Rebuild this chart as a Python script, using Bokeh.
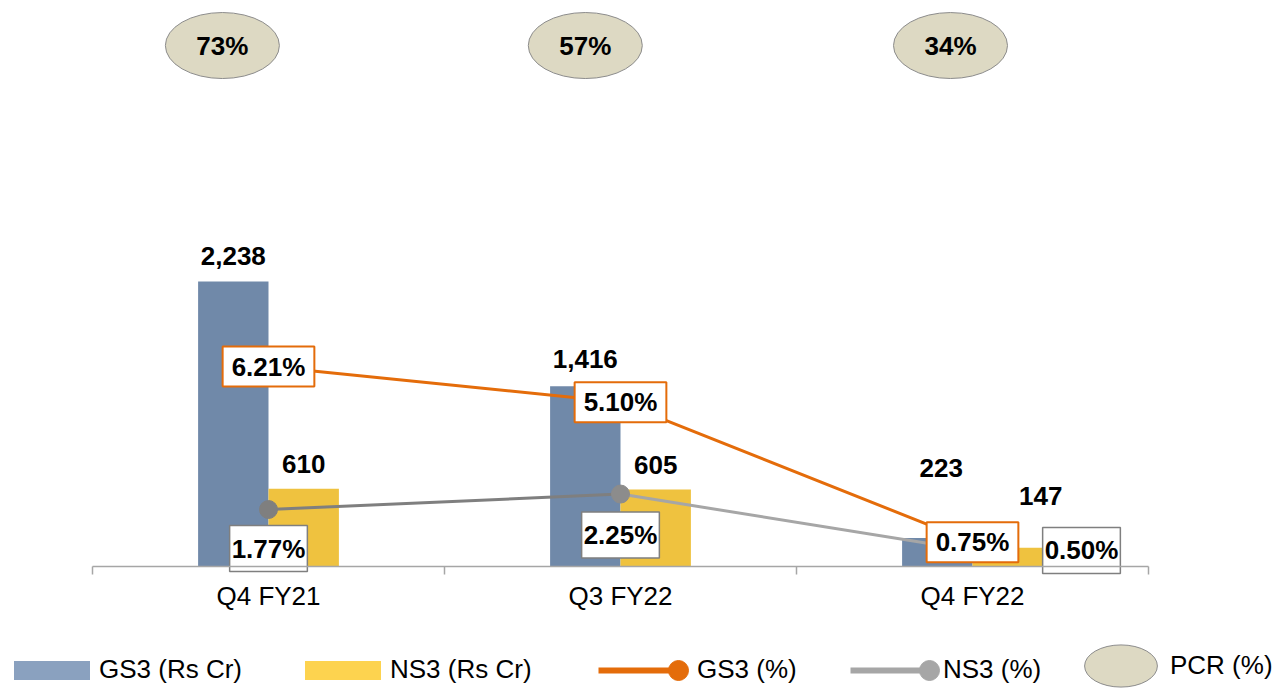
from bokeh.plotting import figure
from bokeh.models import (ColumnDataSource, Range1d, LinearAxis, FixedTicker,
                          Legend, LegendItem)
from bokeh.core.properties import value
from bokeh.transform import dodge
from bokeh.embed import file_html
from bokeh.resources import INLINE

# ---------------- data ----------------
categories = ["Q4 FY21", "Q3 FY22", "Q4 FY22"]
gs3_cr = [2238, 1416, 223]          # GS3 (Rs Cr)
ns3_cr = [610, 605, 147]            # NS3 (Rs Cr)
gs3_pct = [6.21, 5.10, 0.75]        # GS3 (%)
ns3_pct = [1.77, 2.25, 0.50]        # NS3 (%)
pcr_pct = [73, 57, 34]              # PCR (%)

# ---------------- layout / style ----------------
W, H = 1281, 688
BASE_PX = 566            # baseline distance from figure top
CAT_PX = 352             # pixels per category
FIRST_PX = 268           # centre of first category from figure left
BAR_SCALE = 285 / 2238   # px per Rs Cr
PCT_SCALE = 32.2         # px per %
BAR_W = 0.2

FONT = "Liberation Sans"
GS3_COL = "#7089a9"
NS3_COL = "#efc23f"
GS3_LEG = "#8aa1bf"
NS3_LEG = "#fdd34f"
ORANGE = "#e46c0a"
GREYS = ["#7f7f7f", "#8c8c8c", "#a6a6a6"]
SEG_GREYS = ["#7f7f7f", "#a6a6a6"]

# label offsets in pixels (screen)
gs3_lab_dx = [0, 0, 4]
gs3_lab_dy = [-26, -27, -70]
ns3_lab_dx = [0, 0, 33]
ns3_lab_dy = [-25, -24, -52]
ns3p_lab_dx = [0, 0, 109]
ns3p_lab_dy = [39, 41, 0]
pcr_dx = [-0.131, -0.10, -0.0625]
PCR_Y = 4091

xs = list(range(len(categories)))
x_start = -FIRST_PX / CAT_PX
x_end = x_start + W / CAT_PX
y_end = BASE_PX / BAR_SCALE
y_start = y_end - H / BAR_SCALE
p_end = BASE_PX / PCT_SCALE
p_start = p_end - H / PCT_SCALE

p = figure(width=W, height=H, x_range=Range1d(x_start, x_end),
           y_range=Range1d(y_start, y_end), x_axis_type=None, y_axis_type=None,
           output_backend="svg", toolbar_location=None, min_border=0)
p.outline_line_color = None
p.background_fill_color = "white"
p.border_fill_color = "white"
p.extra_y_ranges = {"pct": Range1d(p_start, p_end)}

ax = LinearAxis(
    ticker=FixedTicker(ticks=xs, minor_ticks=[i - 0.5 for i in range(len(xs) + 1)]),
    major_label_overrides={i: c for i, c in enumerate(categories)},
    bounds=(-0.5, len(xs) - 0.5), fixed_location=0,
    axis_line_color="#a6a6a6", axis_line_width=1.5,
    major_tick_out=0, major_tick_in=0,
    minor_tick_out=8, minor_tick_in=0,
    minor_tick_line_color="#a6a6a6", minor_tick_line_width=1.5,
    major_label_text_font=FONT, major_label_text_font_size="26px",
    major_label_text_color="#000000", major_label_standoff=6)
p.add_layout(ax, "below")

# bars
bar_src = ColumnDataSource(dict(x=xs, gs3=gs3_cr, ns3=ns3_cr))
r_gs3 = p.vbar(x=dodge("x", -BAR_W / 2, range=p.x_range), top="gs3", width=BAR_W,
               source=bar_src, fill_color=GS3_COL, line_color=None)
r_ns3 = p.vbar(x=dodge("x", BAR_W / 2, range=p.x_range), top="ns3", width=BAR_W,
               source=bar_src, fill_color=NS3_COL, line_color=None)

# bar value labels
val_src = ColumnDataSource(dict(
    x=[i - BAR_W / 2 for i in xs] + [i + BAR_W / 2 for i in xs],
    y=gs3_cr + ns3_cr,
    txt=[f"{v:,}" for v in gs3_cr + ns3_cr],
    dx=gs3_lab_dx + ns3_lab_dx,
    dy=gs3_lab_dy + ns3_lab_dy))
p.text(x="x", y="y", text="txt", x_offset="dx", y_offset="dy", source=val_src,
       text_font=value(FONT), text_font_style="bold", text_font_size="26px",
       text_align="center", text_baseline="middle", text_color="#000000")

# lines
r_gl = p.line(xs, gs3_pct, y_range_name="pct", line_color=ORANGE, line_width=3)
seg_src = ColumnDataSource(dict(x0=xs[:-1], y0=ns3_pct[:-1], x1=xs[1:], y1=ns3_pct[1:],
                                c=SEG_GREYS))
r_nl = p.segment(x0="x0", y0="y0", x1="x1", y1="y1", source=seg_src,
                 y_range_name="pct", line_color="c", line_width=3)
mk_src = ColumnDataSource(dict(x=xs, y=ns3_pct, c=GREYS))
r_nm = p.scatter(x="x", y="y", source=mk_src, y_range_name="pct", size=18,
                 fill_color="c", line_color="c", marker="circle")
r_gm = p.scatter(x=xs, y=gs3_pct, y_range_name="pct", size=18,
                 fill_color=ORANGE, line_color=ORANGE, marker="circle")

# boxed percentage labels  (padding = (horizontal, vertical))
ns_src = ColumnDataSource(dict(x=xs, y=ns3_pct, txt=[f"{v:.2f}%" for v in ns3_pct],
                               dx=ns3p_lab_dx, dy=ns3p_lab_dy))
p.text(x="x", y="y", text="txt", x_offset="dx", y_offset="dy", source=ns_src,
       y_range_name="pct", text_font=value(FONT), text_font_style="bold",
       text_font_size="26px", text_align="center", text_baseline="middle",
       text_color="#000000", background_fill_color="white",
       border_line_color="#7f7f7f", border_line_width=1.5, padding=(2, 8))
gs_src = ColumnDataSource(dict(x=xs, y=gs3_pct, txt=[f"{v:.2f}%" for v in gs3_pct]))
p.text(x="x", y="y", text="txt", source=gs_src, y_range_name="pct",
       text_font=value(FONT), text_font_style="bold", text_font_size="26px",
       text_align="center", text_baseline="middle", text_color="#000000",
       background_fill_color="white", border_line_color=ORANGE,
       border_line_width=2, padding=(9, 5))

# PCR ellipses
pcr_src = ColumnDataSource(dict(x=[i + d for i, d in zip(xs, pcr_dx)],
                                y=[PCR_Y] * len(xs),
                                txt=[f"{v}%" for v in pcr_pct]))
r_pcr = p.ellipse(x="x", y="y", width=114, height=66, width_units="screen",
                  height_units="screen", source=pcr_src, fill_color="#ddd9c3",
                  line_color="#8c8c8c", line_width=1)
p.text(x="x", y="y", text="txt", source=pcr_src, text_font=value(FONT),
       text_font_style="bold", text_font_size="26px", text_align="center",
       text_baseline="middle", text_color="#000000")

# legend-style twins of the series (hidden in the plot, shown only in the legend)
lg_gs3 = p.vbar(x=dodge("x", -BAR_W / 2, range=p.x_range), top="gs3", width=BAR_W,
                source=bar_src, fill_color=GS3_LEG, line_color=None, visible=False)
lg_ns3 = p.vbar(x=dodge("x", BAR_W / 2, range=p.x_range), top="ns3", width=BAR_W,
                source=bar_src, fill_color=NS3_LEG, line_color=None, visible=False)
lg_gl = p.line(xs, gs3_pct, y_range_name="pct", line_color=ORANGE, line_width=6,
               visible=False)
lg_nl = p.line(xs, ns3_pct, y_range_name="pct", line_color="#a6a6a6", line_width=6,
               visible=False)
lg_gm = p.scatter(xs, gs3_pct, y_range_name="pct", marker="circle",
                  fill_color=ORANGE, line_color=ORANGE, visible=False)
lg_nm = p.scatter(xs, ns3_pct, y_range_name="pct", marker="circle",
                  fill_color="#a6a6a6", line_color="#a6a6a6", visible=False)

def add_leg(label, renderers, loc, gw, gh, standoff, font_size="26px", alpha=1.0):
    item = LegendItem(label=label, renderers=renderers)
    lg = Legend(items=[item], location=loc, orientation="horizontal",
                glyph_width=gw, glyph_height=gh, label_height=gh,
                label_standoff=standoff, padding=0, margin=0, spacing=0,
                border_line_color=None, background_fill_alpha=0,
                inactive_fill_alpha=0, click_policy="none",
                label_text_font=FONT, label_text_font_size=font_size,
                label_text_color="#000000", label_text_alpha=alpha)
    p.add_layout(lg, "center")

add_leg("GS3 (Rs Cr)", [lg_gs3], (4, 3), 95, 24, 0)
add_leg("NS3 (Rs Cr)", [lg_ns3], (295, 3), 95, 24, 0)
add_leg("GS3 (%)", [lg_gl], (598, 3), 86, 30, 13)
add_leg("NS3 (%)", [lg_nl], (850, 3), 84, 30, 9)
# end-of-line dots of the two line swatches
add_leg(" ", [lg_gm], (653, -7), 50, 50, 0, font_size="1px", alpha=0)
add_leg(" ", [lg_nm], (904, -7), 50, 50, 0, font_size="1px", alpha=0)
add_leg("PCR (%)", [r_pcr], (1075, -23), 91, 91, 4)

open("out.html", "w").write(file_html(p, INLINE))
